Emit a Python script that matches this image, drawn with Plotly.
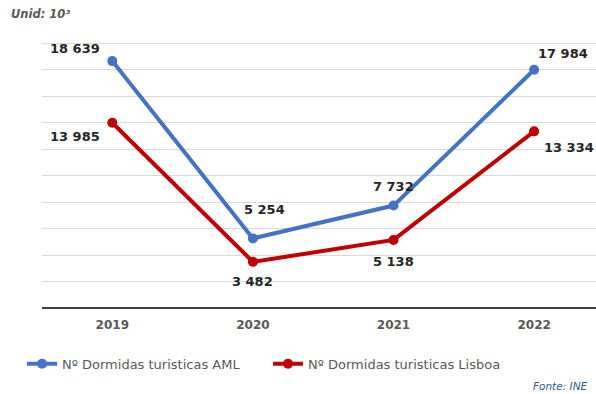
import plotly.graph_objects as go

years = ["2019", "2020", "2021", "2022"]
aml = [18639, 5254, 7732, 17984]
lisboa = [13985, 3482, 5138, 13334]
aml_labels = ["18 639", "5 254", "7 732", "17 984"]
lisboa_labels = ["13 985", "3 482", "5 138", "13 334"]

BLUE = "#4472C4"
RED = "#C00000"
GRAY = "#595959"

fig = go.Figure()
fig.add_trace(go.Scatter(x=years, y=aml, mode="lines+markers", name="Nº Dormidas turisticas AML",
                         line=dict(color=BLUE, width=4), marker=dict(size=10, color=BLUE)))
fig.add_trace(go.Scatter(x=years, y=lisboa, mode="lines+markers", name="Nº Dormidas turisticas Lisboa",
                         line=dict(color=RED, width=4), marker=dict(size=10, color=RED)))

aml_shift = [(-37, 13), (12, 29), (0, 19), (29, 16)]
lis_shift = [(-37, -14), (0, -20), (0, -22), (35, -16)]
lab_font = dict(family="DejaVu Sans", size=13, color="#262626")
for i in range(len(years)):
    fig.add_annotation(x=i, y=aml[i], text="<b>%s</b>" % aml_labels[i], showarrow=False,
                       xshift=aml_shift[i][0], yshift=aml_shift[i][1], font=lab_font)
    fig.add_annotation(x=i, y=lisboa[i], text="<b>%s</b>" % lisboa_labels[i], showarrow=False,
                       xshift=lis_shift[i][0], yshift=lis_shift[i][1], font=lab_font)

fig.add_annotation(x=0, y=1, xref="paper", yref="paper", xanchor="left", yanchor="middle",
                   text="<b><i>Unid: 10³</i></b>", showarrow=False, xshift=-33, yshift=28,
                   font=dict(family="DejaVu Sans", size=11.5, color=GRAY))
fig.add_annotation(x=1, y=0, xref="paper", yref="paper", xanchor="right", yanchor="middle",
                   text="<i>Fonte: INE</i>", showarrow=False, xshift=-6, yshift=-78,
                   font=dict(family="DejaVu Sans", size=10.5, color="#2E5C8A"))

fig.update_layout(
    width=596, height=394,
    margin=dict(l=42, r=0, t=42, b=86),
    paper_bgcolor="white", plot_bgcolor="white",
    showlegend=True,
    legend=dict(orientation="h", x=-0.036, xanchor="left", y=-0.21, yanchor="middle",
                entrywidth=201, entrywidthmode="pixels",
                font=dict(family="DejaVu Sans", size=13, color=GRAY)),
    xaxis=dict(type="category", range=[-0.5, 3.44], showgrid=False, showline=False,
               ticks="", tickfont=dict(family="DejaVu Sans", size=12, color=GRAY, weight="bold"),
               ticklabelstandoff=8),
    yaxis=dict(range=[0, 20080], dtick=2000, showgrid=True, gridcolor="#D9D9D9", gridwidth=1,
               showticklabels=False, zeroline=True, zerolinecolor="#404040", zerolinewidth=2,
               showline=False, ticks=""),
)
fig.write_html("out.html")
